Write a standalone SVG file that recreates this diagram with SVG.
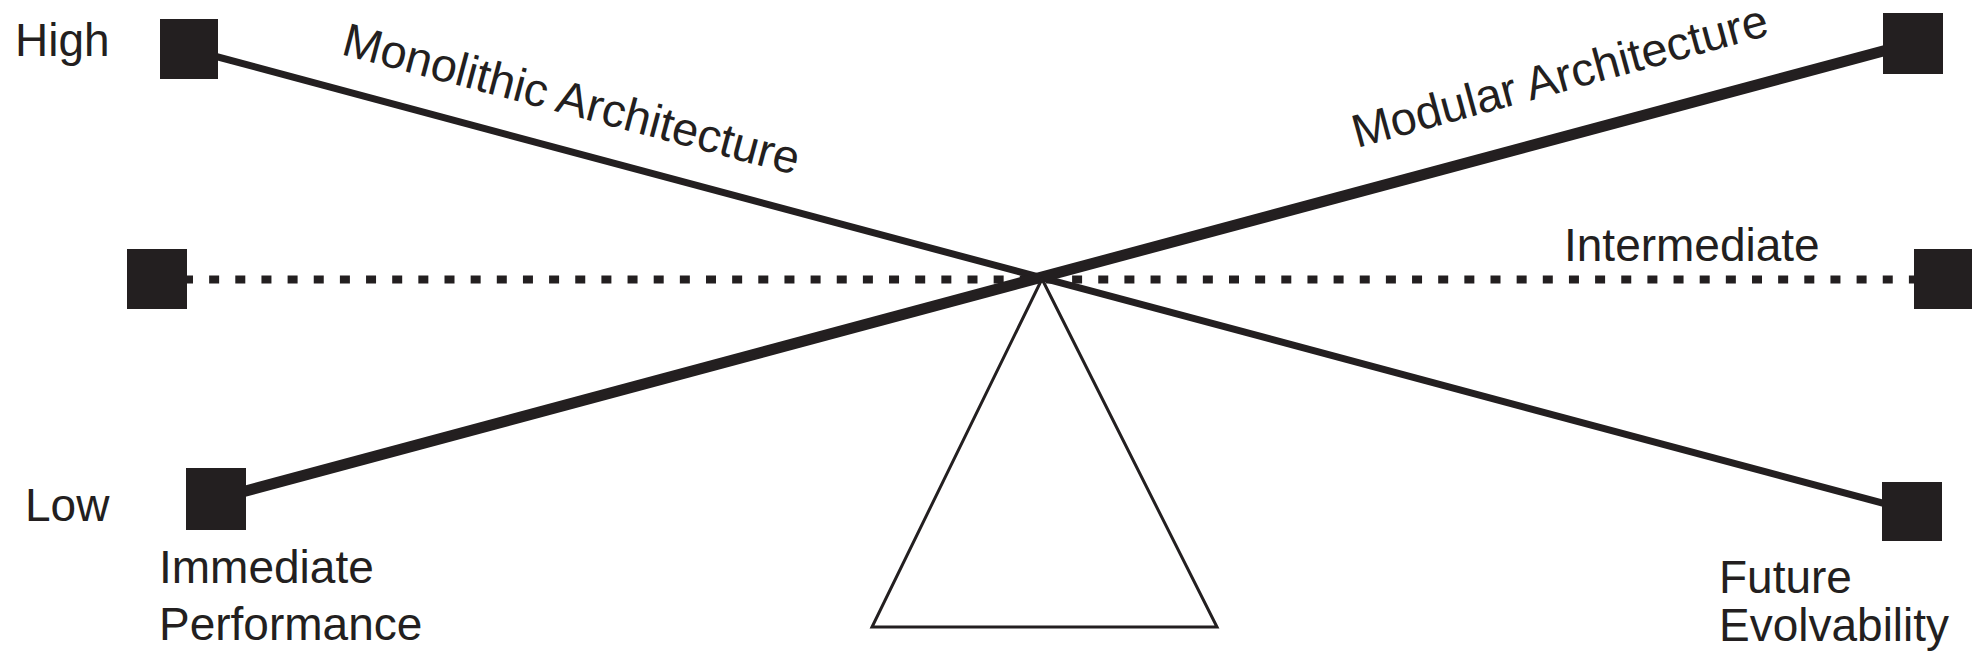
<svg xmlns="http://www.w3.org/2000/svg" width="1972" height="658" viewBox="0 0 1972 658">
<style>
.lbl{font-family:"Liberation Sans",Arial,sans-serif;font-size:46px;fill:#231f20}
.rot{font-size:46.8px}
.sq{fill:#231f20}
</style>
<rect width="1972" height="658" fill="#fff"/>
<g id="connectors">
<line x1="183" y1="279.5" x2="1914" y2="279.5" stroke="#231f20" stroke-width="8" stroke-dasharray="10 16.15"/>
<line x1="188" y1="49" x2="1912" y2="511" stroke="#231f20" stroke-width="7"/>
<line x1="216" y1="499" x2="1913" y2="43" stroke="#231f20" stroke-width="11"/>
</g>
<g id="fulcrum">
<polygon points="1042,279 872,627 1217,627" fill="none" stroke="#231f20" stroke-width="3" stroke-linejoin="miter"/>
</g>
<g id="node-high">
<rect class="sq" x="160" y="19" width="58" height="60"/>
<text class="lbl" x="15" y="56">High</text>
</g>
<g id="node-low">
<rect class="sq" x="186" y="468" width="60" height="62"/>
<text class="lbl" x="25" y="521">Low</text>
<text class="lbl" x="159" y="583">Immediate</text>
<text class="lbl" x="159" y="640">Performance</text>
</g>
<g id="node-mid-left">
<rect class="sq" x="127" y="249" width="60" height="60"/>
</g>
<g id="node-mid-right">
<rect class="sq" x="1914" y="249" width="58" height="60"/>
<text class="lbl" x="1564" y="261">Intermediate</text>
</g>
<g id="node-top-right">
<rect class="sq" x="1883" y="13" width="60" height="61"/>
</g>
<g id="node-bottom-right">
<rect class="sq" x="1882" y="482" width="60" height="59"/>
<text class="lbl" x="1719" y="593">Future</text>
<text class="lbl" x="1719" y="641">Evolvability</text>
</g>
<g id="label-monolithic">
<text class="lbl rot" transform="translate(340,54) rotate(14.9)">Monolithic Architecture</text>
</g>
<g id="label-modular">
<text class="lbl rot" transform="translate(1357,148) rotate(-15.3)">Modular Architecture</text>
</g>
</svg>
